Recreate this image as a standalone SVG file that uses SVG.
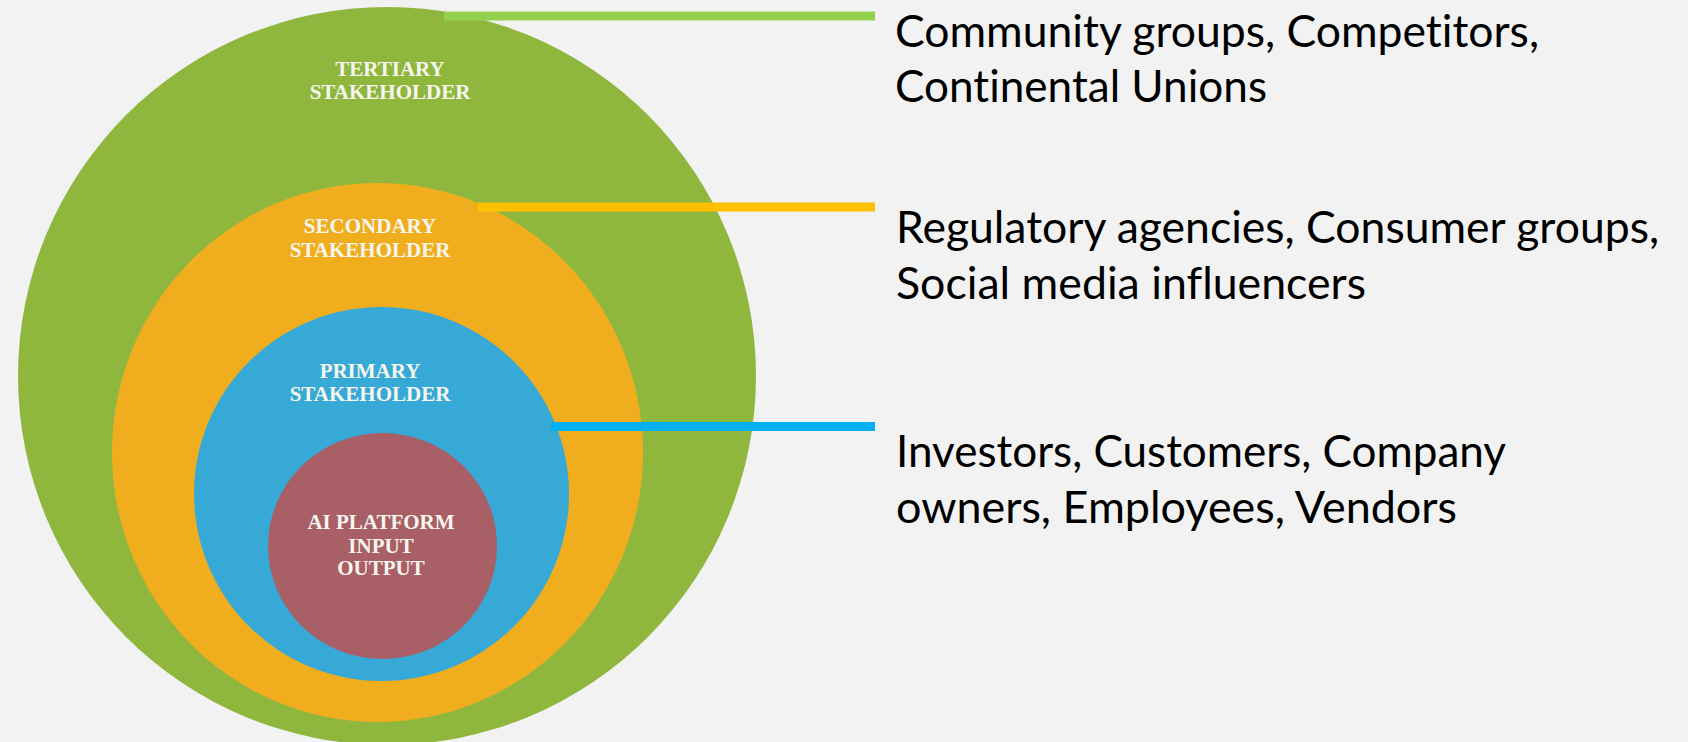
<svg xmlns="http://www.w3.org/2000/svg" width="1688" height="742" viewBox="0 0 1688 742">
  <style>
    .ring-label { font-family: "Liberation Serif", "Times New Roman", serif; font-weight: bold; font-size: 21px; fill: #f6f6ee; text-anchor: middle; }
    .desc { font-family: Lato, "Noto Sans", sans-serif; font-size: 44px; fill: #000000; font-variant-ligatures: none; font-feature-settings: "liga" 0, "clig" 0, "dlig" 0, "calt" 0; }
    .conn { fill: none; stroke-width: 9; }
  </style>
  <rect x="0" y="0" width="1688" height="742" fill="#f2f2f2"/>

  <g id="tertiary">
    <ellipse cx="387" cy="376" rx="369" ry="369" fill="#8fb73e"/>
    <text class="ring-label" x="390" y="76">TERTIARY</text>
    <text class="ring-label" x="390" y="99">STAKEHOLDER</text>
  </g>

  <g id="secondary">
    <ellipse cx="377.5" cy="452.5" rx="265.5" ry="269.5" fill="#f0ae1f"/>
    <text class="ring-label" x="370" y="233">SECONDARY</text>
    <text class="ring-label" x="370" y="257">STAKEHOLDER</text>
  </g>

  <g id="primary">
    <ellipse cx="381.5" cy="494" rx="187.5" ry="187" fill="#36a9d6"/>
    <text class="ring-label" x="370" y="378">PRIMARY</text>
    <text class="ring-label" x="370" y="401">STAKEHOLDER</text>
  </g>

  <g id="core">
    <ellipse cx="382.5" cy="546" rx="114.5" ry="113" fill="#a95f66"/>
    <text class="ring-label" x="381" y="529">AI PLATFORM</text>
    <text class="ring-label" x="381" y="553">INPUT</text>
    <text class="ring-label" x="381" y="575">OUTPUT</text>
  </g>

  <g id="connectors">
    <line class="conn" x1="444" y1="16" x2="875" y2="16" stroke="#92d050" stroke-width="8"/>
    <line class="conn" x1="478" y1="207" x2="875" y2="207" stroke="#ffc000"/>
    <line class="conn" x1="551" y1="426.5" x2="875" y2="426.5" stroke="#00b0f0"/>
  </g>

  <g id="tertiary-desc">
    <text class="desc" x="895" y="47" textLength="644" lengthAdjust="spacingAndGlyphs">Community groups, Competitors,</text>
    <text class="desc" x="895" y="102" textLength="372" lengthAdjust="spacingAndGlyphs">Continental Unions</text>
  </g>

  <g id="secondary-desc">
    <text class="desc" x="896" y="243" textLength="763" lengthAdjust="spacingAndGlyphs">Regulatory agencies, Consumer groups,</text>
    <text class="desc" x="896" y="298.5" textLength="470" lengthAdjust="spacingAndGlyphs">Social media influencers</text>
  </g>

  <g id="primary-desc">
    <text class="desc" x="896" y="467" textLength="610" lengthAdjust="spacingAndGlyphs">Investors, Customers, Company</text>
    <text class="desc" x="896" y="523" textLength="561" lengthAdjust="spacingAndGlyphs">owners, Employees, Vendors</text>
  </g>
</svg>
